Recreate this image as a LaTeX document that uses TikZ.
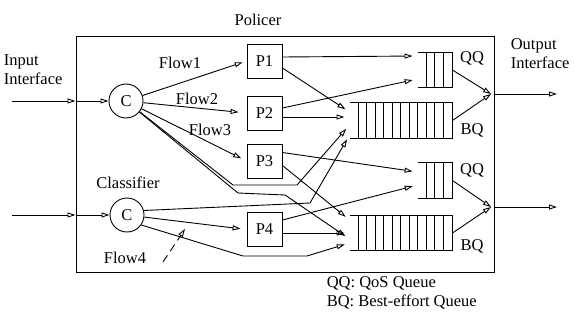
\documentclass[tikz,border=0pt]{standalone}
\usepackage{fontspec}
\setmainfont{Liberation Serif}
\usetikzlibrary{arrows.meta, positioning}

\begin{document}
\begin{tikzpicture}[
  x=1pt, y=-1pt,
  font=\fontsize{16.5}{19}\selectfont,
  line width=0.9pt,
  classifier/.style={circle, draw, minimum size=34pt, inner sep=0pt},
  policer/.style={rectangle, draw, minimum width=35pt, minimum height=34pt, inner sep=0pt},
  queue/.style={rectangle, minimum height=35pt, inner sep=0pt},
  edge/.style={-{Triangle[open, length=8pt, width=5pt]}},
  feed/.style={edge, shorten >=5pt}
]
\useasboundingbox (0,0) rectangle (577,323);

\node[draw, minimum width=418pt, minimum height=236pt] (box) at (285,154) {};
\node (policerlabel) at (258,20) {Policer};
\node[align=left, anchor=west] (inlabel) at (0,70) {Input\\Interface};
\node[align=left, anchor=west] (outlabel) at (507,54) {Output\\Interface};

\node[classifier] (c1) at (126,101) {C};
\node[classifier] (c2) at (127,215) {C};
\node (classlabel) at (128,183) {Classifier};

\node[policer] (p1) at (264.5,61) {P1};
\node[policer] (p2) at (264.5,113) {P2};
\node[policer] (p3) at (264.5,161) {P3};
\node[policer] (p4) at (264.5,229.5) {P4};

\node[queue, minimum width=34pt, minimum height=34pt] (qq1) at (435,70) {};
\node[queue, minimum width=102pt] (bq1) at (401,120.5) {};
\node[queue, minimum width=34pt] (qq2) at (435,180.5) {};
\node[queue, minimum width=102pt, minimum height=34pt] (bq2) at (401,233) {};

% queues: open on the left
\foreach \q/\cells in {qq1/3, bq1/11, qq2/3, bq2/11} {
  \draw (\q.north west) -- (\q.north east) -- (\q.south east) -- (\q.south west);
  \foreach \k in {1,...,\cells}
    \draw ([xshift=\k*8.5pt]\q.north west) -- ([xshift=\k*8.5pt]\q.south west);
}
\node (qqlabel1) at (472,58) {QQ};
\node (bqlabel1) at (472,130) {BQ};
\node (qqlabel2) at (472,170) {QQ};
\node (bqlabel2) at (472,246) {BQ};

\node (flow1) at (180,63) {Flow1};
\node (flow2) at (197,99) {Flow2};
\node (flow3) at (210,130) {Flow3};
\node (flow4) at (125,258) {Flow4};

\node[align=left, anchor=west] (legend) at (323,293) {QQ: QoS Queue\\BQ: Best-effort Queue};

% inputs
\coordinate (i1) at (12,101);
\coordinate (i2) at (12,215);
\draw[edge] (i1) -- (box.west |- i1);
\draw[edge] (box.west |- i1) -- (c1);
\draw[edge] (i2) -- (box.west |- i2);
\draw[edge] (box.west |- i2) -- (c2);

% classifier to policers
\draw[edge, shorten >=4pt] (c1) -- (p1.west);
\draw[edge, shorten >=8pt] (c1) -- (p2.west);
\draw[edge, shorten >=6pt] (c1) -- (p3.west);
\draw[edge, shorten >=6pt] (c2) -- (p4.west);
\coordinate (f4tail) at (163,262);
\coordinate (f4tip) at (185,229);
\draw[edge, dash pattern=on 8pt off 5pt] (f4tail) -- (f4tip);

% classifier straight to best-effort queues
\draw[feed] (c1) -- (233,185) -- (297,185) -- ([yshift=-4.5pt]bq1.west);
\draw[feed] (c1) -- (238,193) -- (285,195) -- ([yshift=-6pt]bq2.west);
\draw[feed] (c2.15) -- (310,203) -- ([yshift=-14.5pt]bq1.west);
\draw[feed] (c2.-35) -- (243,256) -- (307,256) -- ([yshift=-10pt]bq2.west);

% policers to queues
\draw[feed] ([yshift=4pt]p1.east) -- ([yshift=14pt]qq1.west);
\draw[feed] ([yshift=-7pt]p1.east) -- ([yshift=8.5pt]bq1.west);
\draw[feed] ([yshift=5pt]p2.east) -- ([yshift=-9pt]qq1.west);
\draw[feed] ([yshift=-4pt]p2.east) -- ([yshift=3.5pt]bq1.west);
\draw[feed] ([yshift=8.5pt]p3.east) -- ([yshift=8.5pt]qq2.west);
\draw[feed] ([yshift=-4.5pt]p3.east) -- ([yshift=13pt]bq2.west);
\draw[feed] ([yshift=9.5pt]p4.east) -- ([yshift=-4.5pt]qq2.west);
\draw[feed] ([yshift=-3.5pt]p4.east) -- ([yshift=0pt]bq2.west);

% queues to outputs
\coordinate (m1) at (491,94);
\coordinate (m2) at (491,207);
\coordinate (o1) at (557,94);
\coordinate (o2) at (557,207);
\draw[edge] (qq1.east) -- (m1);
\draw[edge] (bq1.east) -- (m1);
\draw[edge] (qq2.east) -- (m2);
\draw[edge] (bq2.east) -- (m2);
\draw[edge] (box.east |- m1) -- (o1);
\draw[edge] (box.east |- m2) -- (o2);
\end{tikzpicture}
\end{document}
